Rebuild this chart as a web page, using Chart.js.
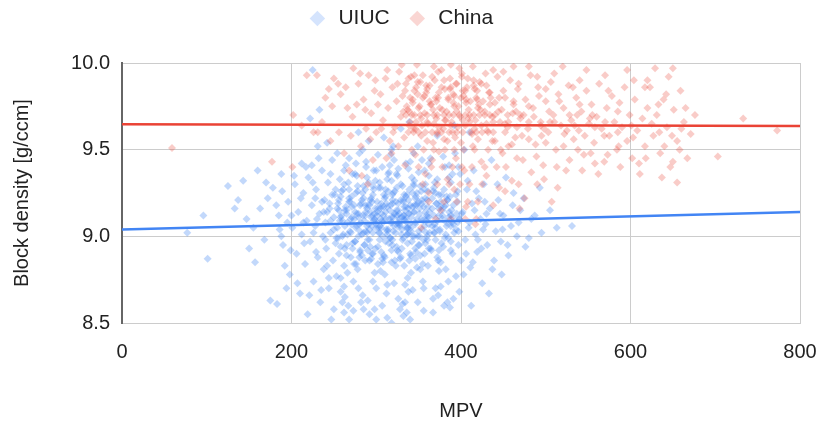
<!DOCTYPE html>
<html>
<head>
  <meta charset="utf-8" />
  <title>Block density vs MPV</title>
  <script src="https://cdn.jsdelivr.net/npm/chart.js"></script>
  <style>
    html, body { margin: 0; padding: 0; background: #fff; }
    #chart { display: block; }
  </style>
</head>
<body>
  <canvas id="chart" width="823" height="426"></canvas>
  <script>
    // values: [MPV, block density]
    var uiucPoints = [
      [77,9.02],[96,9.12],[101,8.87],[125,9.29],[133,9.16],[137,9.21],[143,9.32],[147,9.10],[157,8.85],[163,9.16],
      [170,9.31],[175,8.63],[178,9.28],[183,8.61],[192,8.83],[194,8.70],[212,9.42],[224,9.41],[222,9.68],[233,9.73],
      [225,9.96],[242,9.54],[231,9.52],[155,9.05],[168,8.98],[186,9.04],[150,8.93],[172,9.22],[188,9.36],[160,9.38],
      [185,9.12],[190,8.95],[196,9.20],[198,8.78],[201,9.05],[204,9.30],[206,8.90],[208,9.14],[210,8.67],[212,9.01],
      [214,9.25],[216,8.84],[218,9.09],[219,8.55],[220,9.34],[222,8.97],[224,9.18],[226,8.74],[228,9.06],[229,9.27],
      [231,8.88],[233,9.13],[234,8.62],[236,9.38],[237,9.00],[238,8.81],[239,9.21],[240,9.08],[241,8.93],[243,9.31],
      [244,8.70],[245,9.16],[246,9.02],[247,8.52],[248,9.44],[249,8.86],[250,9.11],[251,9.24],[252,8.96],[253,8.77],
      [254,9.05],[255,9.19],[256,8.90],[257,9.33],[258,8.68],[259,9.12],[260,9.00],[261,9.27],[262,8.83],[263,9.15],
      [264,9.41],[265,8.95],[266,9.08],[267,8.60],[268,9.22],[269,9.03],[270,8.88],[271,9.17],[272,9.36],[273,8.74],
      [274,9.10],[275,8.97],[276,9.25],[277,9.06],[278,8.81],[279,9.13],[280,9.48],[281,8.92],[282,9.19],[283,9.01],
      [284,8.66],[285,9.29],[286,9.09],[287,8.86],[288,9.14],[289,9.34],[290,8.98],[291,9.07],[292,8.55],[293,9.21],
      [294,9.11],[295,8.90],[296,9.02],[297,9.38],[298,8.79],[299,9.16],[300,9.05],[255,8.99],[258,9.23],[260,9.09],
      [262,8.71],[265,9.13],[267,9.31],[270,9.02],[272,8.93],[274,9.18],[276,8.84],[278,9.26],[280,9.07],[282,8.62],
      [284,9.12],[286,8.95],[288,9.43],[290,9.18],[292,9.04],[294,8.87],[296,9.24],[298,9.10],[300,8.70],[257,9.09],
      [263,8.93],[269,9.20],[275,9.14],[281,9.03],[287,9.27],[293,8.94],[299,9.32],[256,9.15],[261,9.01],[266,8.79],
      [271,9.11],[277,9.35],[283,8.89],[289,9.06],[295,9.20],[268,8.52],[285,8.58],[291,9.55],[279,9.60],
      [301,9.12],[302,8.94],[303,9.28],[304,9.06],[305,8.80],[306,9.17],[307,9.40],[308,9.00],[309,8.89],[310,9.22],
      [311,9.10],[312,8.67],[313,9.33],[314,9.04],[315,8.96],[316,9.15],[317,9.47],[318,8.85],[319,9.08],[320,9.25],
      [321,8.73],[322,9.13],[323,9.02],[324,9.36],[325,8.92],[326,9.19],[327,9.07],[328,8.58],[329,9.30],[330,9.11],
      [331,8.98],[332,9.21],[333,8.83],[334,9.09],[335,9.42],[336,9.01],[337,8.76],[338,9.16],[339,9.27],[340,8.90],
      [341,9.05],[342,9.34],[343,8.69],[344,9.14],[345,9.00],[346,8.87],[347,9.23],[348,9.10],[349,9.52],[350,8.95],
      [302,9.16],[304,9.31],[306,8.91],[308,9.08],[310,8.78],[312,9.19],[314,9.26],[316,8.99],[318,9.11],[320,9.03],
      [322,8.86],[324,9.15],[326,9.39],[328,9.06],[330,8.93],[332,9.12],[334,8.72],[336,9.24],[338,9.02],[340,9.18],
      [342,8.97],[344,9.29],[346,9.07],[348,8.82],[350,9.20],[303,9.02],[307,8.87],[311,9.14],[315,9.37],[319,8.95],
      [323,9.20],[327,9.10],[331,8.61],[335,9.05],[339,9.13],[343,9.25],[347,8.91],[305,9.10],[313,8.53],[317,9.08],
      [321,9.44],[325,9.12],[329,8.88],[333,9.17],[337,9.05],[341,8.79],[345,9.32],[349,9.00],[309,9.57],[329,9.62],
      [339,9.66],[318,8.50],[336,8.56],
      [351,9.13],[352,8.89],[353,9.26],[354,9.04],[355,8.74],[356,9.17],[357,9.38],[358,8.96],[359,9.09],[360,9.21],
      [361,8.83],[362,9.11],[363,9.02],[364,9.45],[365,8.92],[366,9.16],[367,8.64],[368,9.28],[369,9.07],[370,8.98],
      [371,9.19],[372,9.33],[373,8.86],[374,9.12],[375,9.03],[376,8.71],[377,9.24],[378,9.10],[379,8.94],[380,9.17],
      [381,9.40],[382,8.81],[383,9.06],[384,9.21],[385,8.99],[386,9.14],[387,8.59],[388,9.31],[389,9.08],[390,8.90],
      [391,9.18],[392,9.02],[393,9.48],[394,8.77],[395,9.13],[396,9.26],[397,8.95],[398,9.10],[399,9.36],[400,8.86],
      [354,9.19],[358,9.30],[362,8.93],[366,9.06],[370,9.25],[374,8.80],[378,9.15],[382,9.01],[386,9.34],[390,9.11],
      [394,9.04],[398,8.68],[356,8.57],[372,9.58],[384,8.62],[392,9.64],[360,9.00],[368,9.12],[376,9.20],[388,8.92],
      [396,9.08],
      [402,9.14],[405,8.98],[407,9.27],[409,9.05],[411,8.82],[413,9.19],[415,9.38],[417,9.01],[419,8.91],[421,9.22],
      [423,9.10],[425,8.73],[427,9.30],[429,9.07],[431,8.95],[434,9.16],[436,9.44],[439,8.86],[441,9.03],[444,9.21],
      [447,8.97],[450,9.12],[453,9.34],[456,8.89],[459,9.06],[462,9.25],[466,9.00],[470,9.15],[476,8.94],[483,9.10],
      [493,9.28],[513,9.05],[505,9.15],[531,9.06],[404,9.50],[412,8.60],[433,8.67],[448,8.78],[410,9.60],
      // dense core
      [262,9.30],[278,9.29],[291,9.31],[305,9.28],[318,9.32],[331,9.29],[344,9.30],[357,9.27],[369,9.31],[252,9.27],
      [248,9.24],[259,9.26],[271,9.23],[284,9.25],[297,9.27],[309,9.24],[322,9.26],[335,9.23],[348,9.25],[361,9.26],
      [374,9.24],[387,9.23],[245,9.19],[256,9.21],[268,9.20],[281,9.18],[294,9.22],[306,9.19],[319,9.21],[332,9.20],
      [345,9.18],[358,9.22],[371,9.19],[384,9.21],[396,9.20],[242,9.14],[254,9.16],[265,9.15],[277,9.13],[289,9.16],
      [301,9.14],[313,9.17],[326,9.15],[338,9.13],[351,9.16],[363,9.14],[376,9.17],[389,9.15],[401,9.13],[246,9.09],
      [258,9.11],[270,9.10],[282,9.08],[295,9.12],[307,9.09],[320,9.11],[333,9.10],[346,9.08],[359,9.12],[372,9.09],
      [385,9.11],[398,9.10],[250,9.04],[263,9.06],[276,9.05],[288,9.03],[300,9.07],[312,9.04],[325,9.06],[337,9.05],
      [350,9.03],[362,9.07],[375,9.04],[388,9.06],[253,8.99],[266,9.01],[279,9.00],[292,8.98],[304,9.02],[317,8.99],
      [330,9.01],[343,9.00],[356,8.98],[368,9.02],[381,8.99],[258,8.94],[272,8.96],[286,8.95],[299,8.93],[311,8.97],
      [324,8.94],[337,8.96],[351,8.95],[364,8.93],[377,8.96],[265,8.89],[281,8.91],[296,8.90],[310,8.88],[326,8.91],
      [341,8.89],[357,8.90],[372,8.88],[274,8.84],[292,8.86],[308,8.85],[323,8.83],[339,8.86],[355,8.84],[275,9.36],
      [300,9.38],[325,9.35],[350,9.37],[316,9.41],[340,9.43],[285,9.22],[293,9.14],[301,9.20],[309,9.12],[317,9.18],
      [325,9.08],[333,9.24],[341,9.11],[349,9.19],[357,9.06],[289,9.02],[297,9.09],[305,9.16],[313,9.03],[321,9.13],
      [329,9.21],[337,9.01],[345,9.14],[353,9.10],[361,9.17],[287,9.12],[303,9.05],[319,9.24],[335,9.17],[351,9.00],
      [315,9.10],[327,9.13],[339,9.07],
      [268,9.27],[283,9.21],[296,9.29],[311,9.23],[324,9.28],[338,9.21],[352,9.29],[366,9.22],[380,9.27],[394,9.24],
      [264,9.17],[279,9.11],[292,9.18],[306,9.13],[319,9.19],[333,9.12],[347,9.18],[360,9.11],[374,9.16],[388,9.12],
      [271,9.07],[285,9.02],[299,9.09],[313,9.01],[327,9.08],[341,9.03],[355,9.09],[369,9.02],[383,9.08],[397,9.03],
      [275,8.97],[290,8.92],[304,8.98],[318,8.92],[332,8.99],[346,8.93],[360,8.98],[374,8.92],[388,8.97],
      [298,9.13],[309,9.17],[321,9.06],[334,9.15],[346,9.22],[358,9.14],[370,9.05],[382,9.18],[306,9.05],[330,9.04],
      [354,9.21],[378,9.12],[287,9.18],[311,9.27],[335,9.10],[359,9.02],[383,9.23],[295,9.06],[319,8.98],[343,9.17],
      [367,9.26],[391,9.07],[280,8.88],[302,8.84],[328,8.87],[352,8.81],[376,8.85],[262,9.38],[288,9.40],[314,9.36],
      [338,9.39],[362,9.35],[386,9.41],[230,9.10],[236,9.20],[240,8.98],[226,9.02],[410,9.08],[416,9.15],[420,8.98],
      [428,9.20],
      // fringe
      [182,9.18],[189,9.26],[195,9.08],[199,8.92],[203,9.35],[207,8.73],[211,9.22],[215,8.96],[217,9.40],[221,8.66],
      [225,9.31],[229,8.91],[232,9.45],[235,8.69],[238,9.14],[242,8.83],[246,9.36],[250,8.58],[254,9.48],[258,8.76],
      [263,8.65],[268,9.45],[273,8.57],[279,8.70],[284,9.50],[290,8.63],[296,8.74],[302,9.47],[307,8.60],[313,8.72],
      [320,9.52],[326,8.64],[332,8.54],[338,8.68],[344,9.48],[349,8.62],[356,8.70],[362,9.42],[367,8.56],[373,8.66],
      [379,9.46],[385,8.74],[391,8.64],[397,9.40],[403,8.78],[408,9.32],[414,8.85],[418,9.26],[424,8.93],[430,9.13],
      [437,8.81],[443,9.30],[449,9.04],[455,8.95],[461,9.18],[468,9.08],[474,9.22],[480,8.99],[487,9.12],[495,9.02],
      [188,9.00],[200,9.12],[214,9.08],[228,9.22],[244,8.76],[260,8.62],[276,9.42],[298,8.58],[318,9.50],[334,8.62],
      [354,9.44],[370,8.70],[390,9.36],[406,8.90],[426,9.04],[446,9.13],[300,8.52],[340,8.52],[262,8.56],[380,8.60]
    ];

    var chinaPoints = [
      [59,9.51],[177,9.43],[201,9.40],[202,9.70],[212,9.64],[218,9.93],[226,9.60],[231,9.60],[240,9.80],[246,9.55],
      [250,9.91],[255,9.88],[258,9.82],[262,9.48],[266,9.74],[270,9.58],[273,9.97],[277,9.76],[279,9.88],[282,9.52],
      [285,9.79],[288,9.62],[291,9.93],[294,9.71],[296,9.44],[298,9.84],[300,9.60],[302,9.76],[230,9.93],[244,9.85],
      [268,9.38],[283,9.35],[290,9.30],
      [335,9.70],[345,9.70],[352,9.70],[360,9.70],[372,9.70],[380,9.70],[391,9.70],[398,9.70],[405,9.70],[415,9.70],
      [428,9.70],[440,9.70],[455,9.70],[470,9.70],
      [320,9.60],[338,9.60],[350,9.60],[358,9.60],[366,9.60],[377,9.60],[386,9.60],[395,9.60],[402,9.60],[412,9.60],
      [425,9.60],[438,9.60],[452,9.60],
      [342,9.50],[356,9.50],[368,9.50],[381,9.50],[392,9.50],[403,9.50],[416,9.50],[432,9.50],[447,9.50],
      [350,9.40],[365,9.40],[378,9.40],[390,9.40],[401,9.40],[413,9.40],[428,9.40],
      [355,9.30],[372,9.30],[386,9.30],[399,9.30],[410,9.30],[425,9.30],
      [362,9.20],[380,9.20],[395,9.20],[408,9.20],[420,9.20],
      [370,9.10],[388,9.10],[405,9.10],[418,9.10],
      [340,9.80],[355,9.80],[370,9.80],[385,9.80],[400,9.80],[418,9.80],[435,9.80],
      [305,9.82],[308,9.67],[311,9.91],[314,9.74],[316,9.55],[319,9.86],[322,9.63],[324,9.78],[327,9.95],[329,9.69],
      [331,9.81],[333,9.57],[335,9.88],[337,9.73],[339,9.64],[341,9.92],[343,9.77],[345,9.84],[347,9.66],[349,9.89],
      [351,9.75],[353,9.58],[355,9.93],[357,9.71],[359,9.83],[361,9.65],[363,9.87],[365,9.76],[367,9.54],[369,9.90],
      [371,9.68],[373,9.80],[375,9.74],[377,9.96],[379,9.62],[381,9.85],[383,9.72],[385,9.79],[387,9.91],[389,9.66],
      [391,9.82],[393,9.57],[395,9.88],[397,9.75],[399,9.69],[401,9.94],[403,9.81],[405,9.64],[407,9.86],[409,9.73],
      [411,9.78],[413,9.59],[415,9.90],[417,9.67],[419,9.84],[421,9.76],
      [312,9.45],[326,9.52],[334,9.41],[346,9.47],[358,9.36],[366,9.44],[374,9.49],[384,9.33],[394,9.45],[404,9.38],
      [414,9.52],[424,9.43],[348,9.99],[368,9.98],[388,9.99],[398,9.97],[330,9.99],[362,9.25],[376,9.15],[392,9.27],
      [406,9.17],[353,9.05],[417,9.07],[384,9.55],[344,9.62],[372,9.59],
      [424,9.88],[428,9.72],[431,9.61],[434,9.83],[437,9.55],[440,9.77],[443,9.92],[446,9.66],[449,9.48],[452,9.80],
      [455,9.63],[458,9.90],[461,9.71],[464,9.57],[467,9.85],[470,9.68],[473,9.44],[476,9.79],[479,9.62],[482,9.93],
      [485,9.74],[488,9.53],[491,9.86],[494,9.66],[497,9.41],[500,9.78],[503,9.60],[506,9.89],[509,9.70],[512,9.50],
      [515,9.82],[518,9.64],[521,9.74],[524,9.38],[527,9.87],[530,9.67],[533,9.56],[536,9.80],[539,9.61],[542,9.72],
      [545,9.47],[548,9.84],[551,9.65],[554,9.76],[557,9.54],[560,9.69],[563,9.88],[566,9.62],[569,9.43],[572,9.74],
      [575,9.58],[578,9.81],[581,9.66],[584,9.50],[587,9.77],[590,9.63],[593,9.86],[596,9.55],[599,9.70],[602,9.45],
      [605,9.79],[608,9.61],[611,9.36],[614,9.68],[617,9.52],[620,9.74],
      [430,9.35],[445,9.28],[460,9.32],[475,9.22],[438,9.18],[453,9.40],[468,9.30],[483,9.37],[498,9.33],[513,9.40],
      [528,9.44],[543,9.38],[558,9.42],[573,9.47],[588,9.40],[603,9.57],[618,9.45],[450,9.95],[480,9.98],[510,9.94],
      [540,9.90],[570,9.93],[500,9.85],[465,9.72],[495,9.58],[525,9.61],[555,9.70],[585,9.60],[469,9.16],[507,9.20],
      [452,9.26],
      [623,9.86],[627,9.58],[631,9.70],[635,9.48],[639,9.79],[643,9.63],[647,9.40],[651,9.73],[655,9.55],[659,9.84],
      [663,9.66],[667,9.45],[671,9.59],[676,9.70],[645,9.92],[629,9.97],[650,9.97],[637,9.34],[655,9.31],[640,9.52],
      [703,9.46],[733,9.68],[773,9.61],[650,9.43],[625,9.65],[660,9.62],
      // dense core
      [338,9.91],[352,9.89],[366,9.92],[380,9.90],[394,9.88],[408,9.91],[422,9.89],[334,9.84],[347,9.86],[360,9.85],
      [374,9.83],[388,9.86],[402,9.84],[416,9.85],[430,9.87],[343,9.79],[357,9.81],[371,9.78],[392,9.81],[406,9.79],
      [426,9.78],[445,9.80],[336,9.75],[350,9.74],[364,9.76],[378,9.73],[392,9.75],[406,9.77],[420,9.74],[434,9.76],
      [448,9.73],[462,9.76],[340,9.66],[354,9.64],[368,9.65],[382,9.67],[396,9.63],[410,9.66],[424,9.64],[438,9.66],
      [452,9.65],[466,9.63],[480,9.66],[494,9.64],[360,9.55],[380,9.56],[400,9.54],[420,9.56],[440,9.55],[460,9.53],
      [480,9.56],[500,9.54],[342,9.70],[368,9.70],[386,9.70],[410,9.70],[422,9.70],[434,9.70],[344,9.60],[372,9.60],
      [390,9.60],[418,9.60],[432,9.60],[480,9.75],[492,9.81],[504,9.72],[516,9.78],[528,9.70],[540,9.76],[552,9.68],
      [486,9.69],[498,9.62],[510,9.66],[522,9.59],[534,9.64],[546,9.58],[558,9.63],[570,9.66],
      [345,9.93],[359,9.87],[373,9.95],[387,9.85],[401,9.92],[415,9.87],[429,9.94],[349,9.82],[363,9.78],[377,9.86],
      [391,9.77],[405,9.84],[419,9.79],[433,9.83],[339,9.72],[353,9.68],[367,9.73],[381,9.67],[395,9.72],[409,9.68],
      [423,9.73],[437,9.69],[346,9.62],[360,9.66],[374,9.63],[388,9.64],[402,9.67],[416,9.62],[430,9.65],[450,9.84],
      [462,9.78],[474,9.70],[456,9.66],[468,9.88],[444,9.72],
      // fringe
      [236,9.66],[248,9.75],[256,9.60],[264,9.86],[272,9.69],[281,9.94],[287,9.73],[293,9.56],[299,9.90],[306,9.62],
      [313,9.96],[318,9.48],[325,9.88],[332,9.72],[456,9.52],[472,9.58],[489,9.46],[505,9.66],[521,9.52],[537,9.70],
      [553,9.48],[569,9.58],[585,9.72],[601,9.64],[617,9.86],[633,9.76],[649,9.58],[665,9.74],[442,9.40],[466,9.45],
      [490,9.30],[514,9.28],[538,9.50],[562,9.36],[586,9.52],[610,9.42],[634,9.60],[658,9.50],[520,9.98],[548,9.96],
      [596,9.96],[620,9.90],[462,9.98],[438,9.96],[414,9.98],[490,9.92],[532,9.86],[574,9.84],[604,9.90],[642,9.82]
    ];

    // trendline ends, read at MPV 0 and 800
    var trendX = [0, 800];
    var uiucTrend = [9.04, 9.14];
    var chinaTrend = [9.647, 9.636];

    var yTicks = [8.5, 9.0, 9.5, 10.0];
    var xTicks = [0, 200, 400, 600, 800];

    function toXY(list) {
      return list.map(function (p) { return { x: p[0], y: p[1] }; });
    }
    function trend(ys) {
      return trendX.map(function (x, i) { return { x: x, y: ys[i] }; });
    }

    Chart.defaults.font.family = "'Liberation Sans', Arial, sans-serif";
    Chart.defaults.font.size = 20;
    Chart.defaults.color = '#222';

    // legend band: taller box, pulled up so the plot still starts at y=63
    var legendHeight = {
      id: 'legendHeight',
      beforeInit: function (chart) {
        var fit = chart.legend.fit;
        chart.legend.fit = function () {
          fit.bind(chart.legend)();
          this.height = 72;
        };
      }
    };

    var ctx = document.getElementById('chart').getContext('2d');
    new Chart(ctx, {
      type: 'scatter',
      data: {
        datasets: [
          {
            label: 'UIUC',
            data: toXY(uiucPoints),
            pointStyle: 'rectRot',
            pointRadius: 4,
            pointBorderWidth: 0,
            backgroundColor: 'rgba(66,133,244,0.32)',
            borderColor: 'rgba(66,133,244,0)',
            order: 2
          },
          {
            label: 'China',
            data: toXY(chinaPoints),
            pointStyle: 'rectRot',
            pointRadius: 4,
            pointBorderWidth: 0,
            backgroundColor: 'rgba(234,67,53,0.27)',
            borderColor: 'rgba(234,67,53,0)',
            order: 1
          },
          {
            label: 'UIUC trend',
            data: trend(uiucTrend),
            showLine: true,
            pointRadius: 0,
            borderColor: '#4285f4',
            borderWidth: 2.5,
            order: 0
          },
          {
            label: 'China trend',
            data: trend(chinaTrend),
            showLine: true,
            pointRadius: 0,
            borderColor: '#ea4335',
            borderWidth: 2.5,
            order: 0
          }
        ]
      },
      options: {
        responsive: false,
        animation: false,
        layout: { padding: { left: 0, right: 23, top: -9, bottom: 0 } },
        plugins: {
          legend: {
            position: 'top',
            labels: {
              usePointStyle: true,
              boxWidth: 21,
              boxHeight: 11,
              padding: 17,
              color: '#222',
              font: { size: 21 },
              filter: function (item) { return item.datasetIndex < 2; },
              sort: function (a, b) { return a.datasetIndex - b.datasetIndex; },
              generateLabels: function (chart) {
                var items = Chart.defaults.plugins.legend.labels.generateLabels(chart);
                items.forEach(function (it) {
                  it.pointStyle = 'rectRot';
                  it.lineWidth = 0;
                  it.fillStyle = it.datasetIndex === 0 ? 'rgba(66,133,244,0.22)' : 'rgba(234,67,53,0.22)';
                });
                return items;
              }
            }
          },
          tooltip: { enabled: false }
        },
        scales: {
          x: {
            type: 'linear',
            min: xTicks[0],
            max: xTicks[xTicks.length - 1],
            afterBuildTicks: function (scale) {
              scale.ticks = xTicks.map(function (v) { return { value: v }; });
            },
            afterFit: function (scale) {
              scale.height = 103;
              scale.paddingLeft = 0;
              scale.paddingRight = 0;
            },
            grid: { color: '#cccccc', lineWidth: 1, drawTicks: false },
            border: { color: '#cccccc', width: 1 },
            ticks: { padding: 17, color: '#222' },
            title: { display: true, text: 'MPV', color: '#222', padding: { top: 0, bottom: 3 } }
          },
          y: {
            type: 'linear',
            min: yTicks[0],
            max: yTicks[yTicks.length - 1],
            afterBuildTicks: function (scale) {
              scale.ticks = yTicks.map(function (v) { return { value: v }; });
            },
            afterFit: function (scale) { scale.width = 122; },
            grid: { color: '#cccccc', lineWidth: 1, drawTicks: false },
            border: { color: '#666666', width: 2 },
            ticks: {
              padding: 12,
              color: '#222',
              callback: function (v) { return Number(v).toFixed(1); }
            },
            title: { display: true, text: 'Block density [g/ccm]', color: '#222', padding: { top: 10, bottom: 0 } }
          }
        }
      },
      plugins: [legendHeight]
    });
  </script>
</body>
</html>
